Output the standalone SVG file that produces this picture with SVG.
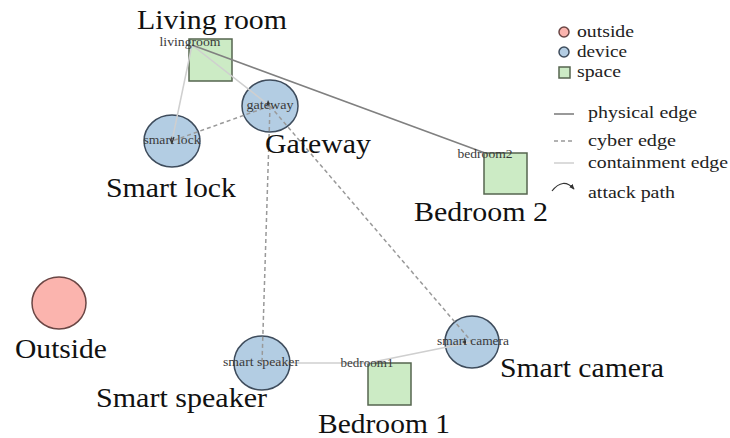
<svg xmlns="http://www.w3.org/2000/svg" width="730" height="438" viewBox="0 0 730 438">
  <defs>
    <marker id="arrow" viewBox="0 0 10 10" refX="8" refY="5" markerWidth="5" markerHeight="5" orient="auto">
      <path d="M0,1 L9,5 L0,9 z" fill="#333"/>
    </marker>
  </defs>
  <style>
    .device { fill: #b3cde3; stroke: #3e4c5c; stroke-width: 1.5; }
    .space { fill: #ccebc5; stroke: #56654f; stroke-width: 1.5; }
    .outside { fill: #fbb4ae; stroke: #6a4644; stroke-width: 1.5; }
    .physical { stroke: #808080; stroke-width: 1.6; fill: none; }
    .cyber { stroke: #999; stroke-width: 1.5; stroke-dasharray: 4 3; fill: none; }
    .containment { stroke: #cfcfcf; stroke-width: 1.5; fill: none; }
    .attack { stroke: #333; stroke-width: 1.2; fill: none; }
    .tag { font-family: "Liberation Serif", "Times New Roman", serif; font-size: 12.5px; fill: #3a3a3a; text-anchor: middle; dominant-baseline: central; }
    .name { font-family: "Liberation Serif", "Times New Roman", serif; font-size: 27px; fill: #111; }
    .key { font-family: "Liberation Serif", "Times New Roman", serif; font-size: 17px; fill: #222; }
  </style>

  <!-- nodes -->
  <g id="livingroom">
    <rect class="space" x="189" y="39" width="43" height="42"/>
  </g>
  <g id="bedroom2">
    <rect class="space" x="484" y="153" width="43" height="41"/>
  </g>
  <g id="bedroom1">
    <rect class="space" x="368" y="363" width="43" height="42"/>
  </g>
  <g id="gateway">
    <ellipse class="device" cx="270" cy="106" rx="28" ry="26"/>
  </g>
  <g id="smartlock">
    <ellipse class="device" cx="172" cy="141" rx="28" ry="26"/>
  </g>
  <g id="smartspeaker">
    <ellipse class="device" cx="262" cy="363" rx="28" ry="27"/>
  </g>
  <g id="smartcamera">
    <ellipse class="device" cx="472" cy="342" rx="27" ry="26"/>
  </g>
  <g id="outside">
    <ellipse class="outside" cx="59" cy="303" rx="27" ry="26"/>
  </g>

  <!-- connectors -->
  <g id="edges">
    <line class="containment" x1="192" y1="45" x2="172" y2="141"/>
    <line class="containment" x1="192" y1="45" x2="270" y2="106"/>
    <line class="physical" x1="192" y1="45" x2="485" y2="153"/>
    <line class="containment" x1="262" y1="363" x2="368" y2="363"/>
    <line class="containment" x1="368" y1="363" x2="472" y2="342"/>
    <line class="cyber" x1="270" y1="106" x2="172" y2="141"/>
    <line class="cyber" x1="270" y1="106" x2="262" y2="363"/>
    <line class="cyber" x1="270" y1="106" x2="472" y2="342"/>
  </g>

  <!-- attack path heads -->
  <g id="attack">
    <path d="M266,106 L268,100 L270,104 z" fill="#333"/>
    <path d="M174,137 L172,143 L170,139" class="attack"/>
    <path d="M466,340 L462,342 L466,344 z" fill="#333"/>
  </g>

  <!-- node tags -->
  <g id="tags">
    <text class="tag" x="190" y="42" textLength="61" lengthAdjust="spacingAndGlyphs">livingroom</text>
    <text class="tag" x="270" y="105" textLength="47" lengthAdjust="spacingAndGlyphs">gateway</text>
    <text class="tag" x="172" y="140" textLength="57" lengthAdjust="spacingAndGlyphs">smart lock</text>
    <text class="tag" x="485" y="154" textLength="55" lengthAdjust="spacingAndGlyphs">bedroom2</text>
    <text class="tag" x="261" y="362" textLength="76" lengthAdjust="spacingAndGlyphs">smart speaker</text>
    <text class="tag" x="367" y="363" textLength="53" lengthAdjust="spacingAndGlyphs">bedroom1</text>
    <text class="tag" x="473" y="341" textLength="72" lengthAdjust="spacingAndGlyphs">smart camera</text>
  </g>

  <!-- node names -->
  <g id="names">
    <text class="name" x="137" y="29" textLength="150" lengthAdjust="spacingAndGlyphs">Living room</text>
    <text class="name" x="265" y="153" textLength="106" lengthAdjust="spacingAndGlyphs">Gateway</text>
    <text class="name" x="106" y="197" textLength="130" lengthAdjust="spacingAndGlyphs">Smart lock</text>
    <text class="name" x="414" y="221" textLength="134" lengthAdjust="spacingAndGlyphs">Bedroom 2</text>
    <text class="name" x="15" y="358" textLength="92" lengthAdjust="spacingAndGlyphs">Outside</text>
    <text class="name" x="96" y="407" textLength="171" lengthAdjust="spacingAndGlyphs">Smart speaker</text>
    <text class="name" x="318" y="433" textLength="132" lengthAdjust="spacingAndGlyphs">Bedroom 1</text>
    <text class="name" x="500" y="377" textLength="164" lengthAdjust="spacingAndGlyphs">Smart camera</text>
  </g>

  <!-- legend -->
  <g id="legend">
    <circle class="outside" cx="564" cy="32" r="5" stroke-width="1"/>
    <circle class="device" cx="564" cy="52" r="5" stroke-width="1"/>
    <rect class="space" x="559" y="67" width="11" height="11" stroke-width="1"/>
    <text class="key" x="577" y="37" textLength="57" lengthAdjust="spacingAndGlyphs">outside</text>
    <text class="key" x="577" y="57" textLength="50" lengthAdjust="spacingAndGlyphs">device</text>
    <text class="key" x="577" y="77" textLength="44" lengthAdjust="spacingAndGlyphs">space</text>

    <line class="physical" x1="554" y1="114" x2="574" y2="114" stroke-width="1.3"/>
    <line class="cyber" x1="554" y1="141" x2="574" y2="141" stroke="#bbb" stroke-width="1.2" stroke-dasharray="3 3"/>
    <line class="containment" x1="554" y1="163" x2="574" y2="163" stroke-width="1.2"/>
    <path class="attack" d="M552,191 Q563,177 574,189" marker-end="url(#arrow)"/>
    <text class="key" x="588" y="118" textLength="109" lengthAdjust="spacingAndGlyphs">physical edge</text>
    <text class="key" x="588" y="146" textLength="88" lengthAdjust="spacingAndGlyphs">cyber edge</text>
    <text class="key" x="588" y="168" textLength="140" lengthAdjust="spacingAndGlyphs">containment edge</text>
    <text class="key" x="588" y="198" textLength="87" lengthAdjust="spacingAndGlyphs">attack path</text>
  </g>
</svg>
